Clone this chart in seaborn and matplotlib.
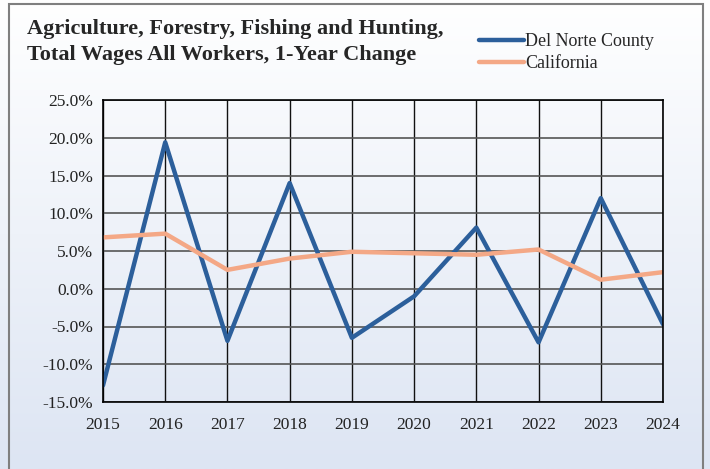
import numpy as np
import pandas as pd
import matplotlib
matplotlib.use("Agg")
import matplotlib.pyplot as plt
import seaborn as sns
from matplotlib.ticker import FuncFormatter

# values (percent change)
years = [2015, 2016, 2017, 2018, 2019, 2020, 2021, 2022, 2023, 2024]
del_norte = [-12.8, 19.4, -6.9, 14.0, -6.5, -1.0, 8.1, -7.1, 12.0, -4.7]
california = [6.8, 7.3, 2.5, 4.0, 4.9, 4.7, 4.5, 5.2, 1.2, 2.2]

data = pd.DataFrame({
    "Year": years * 2,
    "Change": del_norte + california,
    "Area": ["Del Norte County"] * len(years) + ["California"] * len(years),
})

sns.set_style("white")
plt.rcParams["font.family"] = ["Liberation Serif", "DejaVu Serif"]

fig = plt.figure(figsize=(7.1, 4.69), dpi=100)

# gradient background
bg = fig.add_axes([0, 0, 1, 1], zorder=0)
grad = np.linspace(0, 1, 256).reshape(-1, 1)
cmap = matplotlib.colors.LinearSegmentedColormap.from_list("bg", ["#ffffff", "#dde5f3"])
bg.imshow(grad, aspect="auto", cmap=cmap, extent=[0, 1, 0, 1], origin="upper")
bg.set_xlim(0, 1)
bg.set_ylim(0, 1)
bg.axis("off")
bg.add_patch(plt.Rectangle((9 / 710, -0.01), (703 - 9) / 710, 1 - 4 / 469 + 0.01,
                           fill=False, edgecolor="#7f7f7f", lw=1.5))

ax = fig.add_axes([103 / 710, 1 - 402 / 469, (663 - 103) / 710, (402 - 100) / 469], zorder=1)
ax.patch.set_alpha(0)

sns.lineplot(data=data, x="Year", y="Change", hue="Area",
             palette={"Del Norte County": "#2c5f9b", "California": "#f4a886"},
             linewidth=3.2, ax=ax, legend=False)

ax.set_xlim(2015, 2024)
ax.set_ylim(-15, 25)
ax.set_xticks(years)
ax.set_yticks(np.arange(-15, 26, 5))
ax.yaxis.set_major_formatter(FuncFormatter(lambda v, p: f"{v:.1f}%"))
ax.grid(True, axis="x", color="#111111", lw=1)
ax.grid(True, axis="y", color="#555555", lw=1.2)
ax.set_axisbelow(True)
for s in ax.spines.values():
    s.set_color("black")
    s.set_linewidth(1.2)
ax.tick_params(axis="both", direction="out", length=4, width=1, color="black",
               labelsize=12.5, labelcolor="#222222")
ax.tick_params(axis="x", pad=7)
ax.tick_params(axis="y", pad=3)
ax.set_xlabel("")
ax.set_ylabel("")

fig.text(27 / 710, 1 - 42 / 469, "Agriculture, Forestry, Fishing and Hunting,\nTotal Wages All Workers, 1-Year Change",
         fontsize=16, fontweight="bold", va="center", ha="left", linespacing=1.35)

handles = [plt.Line2D([], [], color="#2c5f9b", lw=3.2),
           plt.Line2D([], [], color="#f4a886", lw=3.2)]
fig.legend(handles, ["Del Norte County", "California"], loc="upper left",
           bbox_to_anchor=(470 / 710, 1 - 24 / 469), frameon=False, fontsize=13,
           handlelength=2.5, handletextpad=0.05, labelspacing=0.3, borderpad=0)

fig.savefig("out.png", dpi=100)
